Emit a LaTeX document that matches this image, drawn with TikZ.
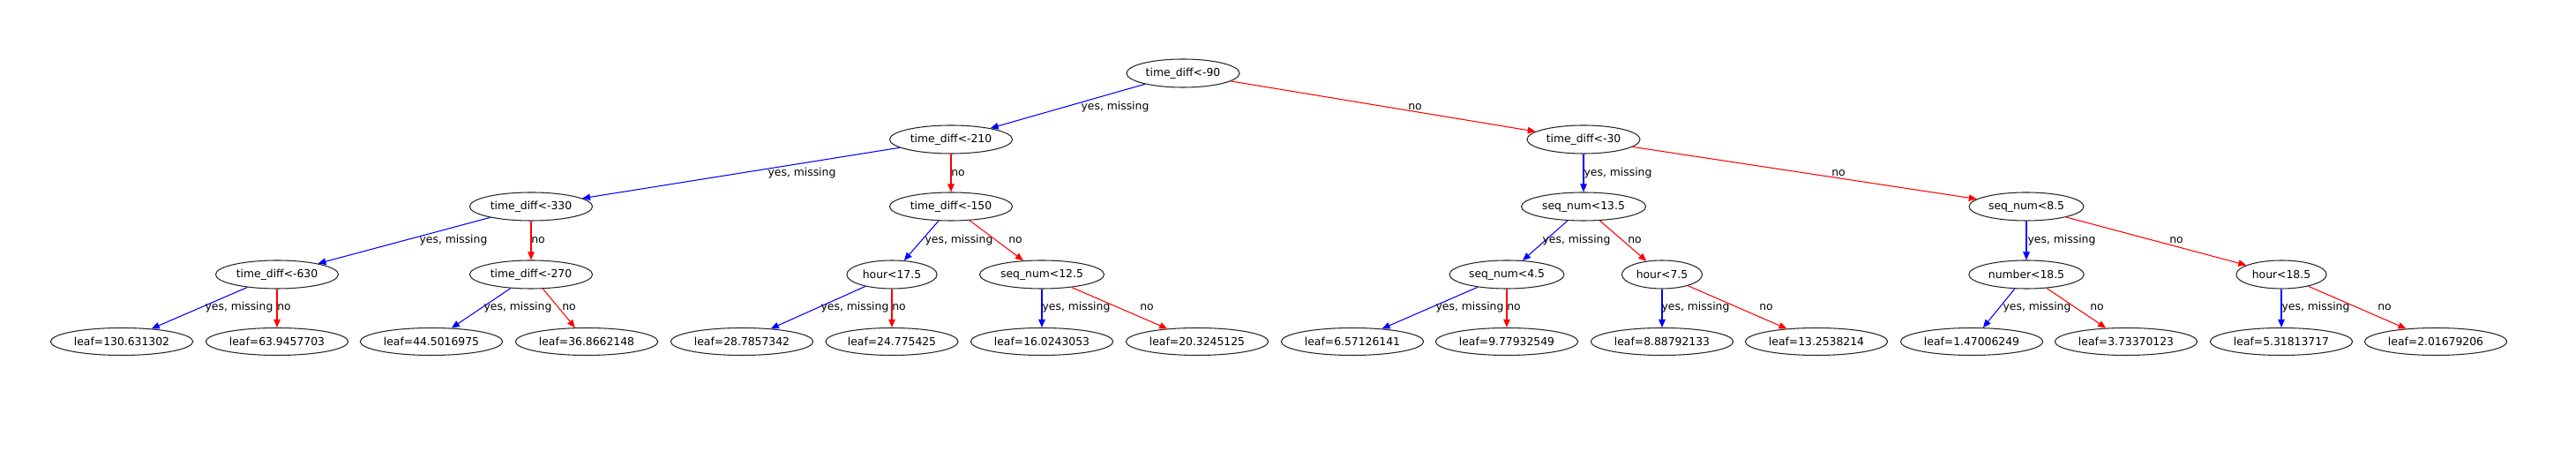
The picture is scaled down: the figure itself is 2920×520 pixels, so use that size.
\documentclass[tikz,border=0pt]{standalone}
\usepackage{fontspec}
\setmainfont{DejaVu Sans}
\usetikzlibrary{shapes.geometric,arrows.meta}

\begin{document}
\begin{tikzpicture}[x=0.1mm,y=-0.1mm,
    font=\fontsize{3.52pt}{4.2pt}\selectfont,
    split/.style={ellipse,draw=black!85,line width=0.3pt,inner xsep=0.3mm,inner ysep=0pt,minimum height=3.2mm},
    leaf/.style={split,minimum height=3.1mm},
    yesedge/.style={color=blue,line width=0.3pt,-{Triangle[length=0.9mm,width=0.75mm]}},
    noedge/.style={yesedge,color=red},
    lbl/.style={inner sep=0pt,text=black}]
\useasboundingbox (0,0) rectangle (2920,520);

% splits
\node[split] (n0) at (1341,83) {time\_diff<-90};
\node[split] (n1) at (1078,158) {time\_diff<-210};
\node[split] (n2) at (1795,158) {time\_diff<-30};
\node[split] (n3) at (602,234) {time\_diff<-330};
\node[split] (n4) at (1078,234) {time\_diff<-150};
\node[split] (n5) at (1795,234) {seq\_num<13.5};
\node[split] (n6) at (2297,234) {seq\_num<8.5};
\node[split] (n7) at (314,311) {time\_diff<-630};
\node[split] (n8) at (602,311) {time\_diff<-270};
\node[split] (n9) at (1011,311) {hour<17.5};
\node[split] (n10) at (1181,311) {seq\_num<12.5};
\node[split] (n11) at (1708,311) {seq\_num<4.5};
\node[split] (n12) at (1884,311) {hour<7.5};
\node[split] (n13) at (2297,311) {number<18.5};
\node[split] (n14) at (2586,311) {hour<18.5};

% leaves
\node[leaf] (l1) at (138,387) {leaf=130.631302};
\node[leaf] (l2) at (314,387) {leaf=63.9457703};
\node[leaf] (l3) at (489,387) {leaf=44.5016975};
\node[leaf] (l4) at (665,387) {leaf=36.8662148};
\node[leaf] (l5) at (841,387) {leaf=28.7857342};
\node[leaf] (l6) at (1011,387) {leaf=24.775425};
\node[leaf] (l7) at (1181,387) {leaf=16.0243053};
\node[leaf] (l8) at (1357,387) {leaf=20.3245125};
\node[leaf] (l9) at (1533,387) {leaf=6.57126141};
\node[leaf] (l10) at (1708,387) {leaf=9.77932549};
\node[leaf] (l11) at (1884,387) {leaf=8.88792133};
\node[leaf] (l12) at (2059,387) {leaf=13.2538214};
\node[leaf] (l13) at (2235,387) {leaf=1.47006249};
\node[leaf] (l14) at (2410,387) {leaf=3.73370123};
\node[leaf] (l15) at (2586,387) {leaf=5.31813717};
\node[leaf] (l16) at (2761,387) {leaf=2.01679206};

% edges
\draw[yesedge] (n0) -- (n1) node[lbl] at (1264,121) {yes, missing};
\draw[noedge] (n0) -- (n2) node[lbl] at (1604,121) {no};
\draw[yesedge] (n1) -- (n3) node[lbl] at (909,196) {yes, missing};
\draw[noedge] (n1) -- (n4) node[lbl] at (1086,196) {no};
\draw[yesedge] (n2) -- (n5) node[lbl] at (1834,196) {yes, missing};
\draw[noedge] (n2) -- (n6) node[lbl] at (2084,196) {no};
\draw[yesedge] (n3) -- (n7) node[lbl] at (514,272) {yes, missing};
\draw[noedge] (n3) -- (n8) node[lbl] at (610,272) {no};
\draw[yesedge] (n4) -- (n9) node[lbl] at (1087,272) {yes, missing};
\draw[noedge] (n4) -- (n10) node[lbl] at (1151,272) {no};
\draw[yesedge] (n5) -- (n11) node[lbl] at (1787,272) {yes, missing};
\draw[noedge] (n5) -- (n12) node[lbl] at (1853,272) {no};
\draw[yesedge] (n6) -- (n13) node[lbl] at (2337,272) {yes, missing};
\draw[noedge] (n6) -- (n14) node[lbl] at (2467,272) {no};
\draw[yesedge] (n7) -- (l1) node[lbl] at (271,348) {yes, missing};
\draw[noedge] (n7) -- (l2) node[lbl] at (322,348) {no};
\draw[yesedge] (n8) -- (l3) node[lbl] at (587,348) {yes, missing};
\draw[noedge] (n8) -- (l4) node[lbl] at (645,348) {no};
\draw[yesedge] (n9) -- (l5) node[lbl] at (969,348) {yes, missing};
\draw[noedge] (n9) -- (l6) node[lbl] at (1019,348) {no};
\draw[yesedge] (n10) -- (l7) node[lbl] at (1220,348) {yes, missing};
\draw[noedge] (n10) -- (l8) node[lbl] at (1300,348) {no};
\draw[yesedge] (n11) -- (l9) node[lbl] at (1666,348) {yes, missing};
\draw[noedge] (n11) -- (l10) node[lbl] at (1716,348) {no};
\draw[yesedge] (n12) -- (l11) node[lbl] at (1922,348) {yes, missing};
\draw[noedge] (n12) -- (l12) node[lbl] at (2002,348) {no};
\draw[yesedge] (n13) -- (l13) node[lbl] at (2309,348) {yes, missing};
\draw[noedge] (n13) -- (l14) node[lbl] at (2377,348) {no};
\draw[yesedge] (n14) -- (l15) node[lbl] at (2625,348) {yes, missing};
\draw[noedge] (n14) -- (l16) node[lbl] at (2703,348) {no};
\end{tikzpicture}
\end{document}
